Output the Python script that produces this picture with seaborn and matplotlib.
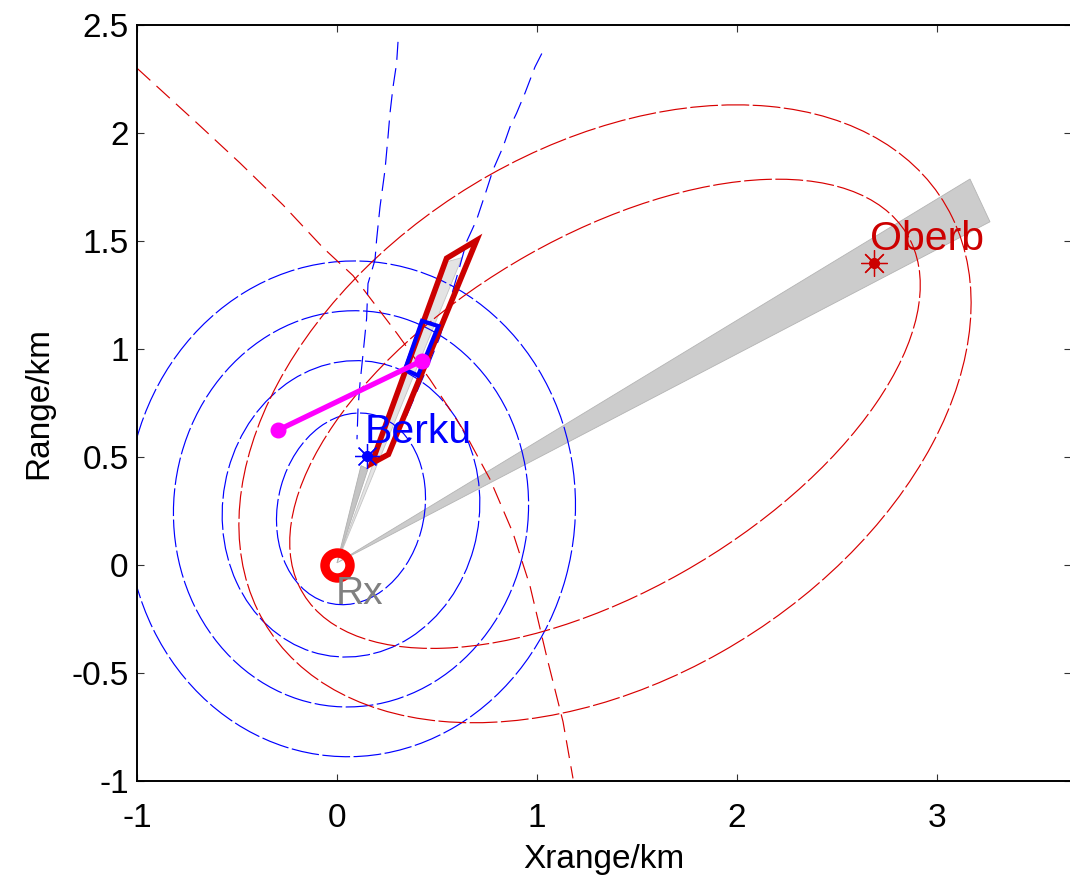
import numpy as np
import pandas as pd
import matplotlib
matplotlib.use("Agg")
import matplotlib.pyplot as plt
import seaborn as sns
from matplotlib.patches import Ellipse, Polygon

# ---------------- data ----------------
# station positions (km)
rx_x, rx_y = 0.0, 0.0
berku_x, berku_y = 0.148, 0.505
oberb_x, oberb_y = 2.685, 1.398

# iso-delay ellipses Rx-Berku (blue)
blue_center = (0.07, 0.26)
blue_angle = 73.5
blue_semi_major = [0.45, 0.69, 0.92, 1.15]
blue_semi_minor = [0.365, 0.64, 0.885, 1.12]

# iso-delay ellipses Rx-Oberb (red)
red_center = (1.34, 0.70)
red_angle = 27.6
red_semi_major = [1.725, 1.96]
red_semi_minor = [0.83, 1.247]

# hyperbola-like dashed curves
red_hyp_x = [-1.0, -0.70, -0.485, -0.27, -0.07, 0.08, 0.30, 0.465, 0.63, 0.765, 0.88, 0.965, 1.05, 1.13, 1.18]
red_hyp_y = [2.30, 2.046, 1.861, 1.667, 1.469, 1.34, 1.072, 0.859, 0.628, 0.397, 0.148, -0.097, -0.43, -0.725, -0.988]

blue_hyp1_x = [0.305, 0.298, 0.28, 0.265, 0.255, 0.24, 0.215, 0.198, 0.19, 0.155, 0.148, 0.13, 0.115, 0.105, 0.10]
blue_hyp1_y = [2.422, 2.323, 2.212, 2.092, 1.982, 1.829, 1.658, 1.506, 1.413, 1.303, 1.141, 0.975, 0.841, 0.725, 0.582]

blue_hyp2_x = [1.024, 0.99, 0.94, 0.898, 0.865, 0.83, 0.78, 0.748, 0.698, 0.648, 0.615, 0.565, 0.515, 0.465, 0.415, 0.34]
blue_hyp2_y = [2.368, 2.306, 2.185, 2.092, 2.028, 1.935, 1.829, 1.737, 1.598, 1.497, 1.386, 1.224, 1.058, 0.942, 0.836, 0.674]

# antenna beams (grey wedges)
oberb_beam_x = [0.0, 3.165, 3.265]
oberb_beam_y = [0.01, 1.787, 1.589]
berku_beam_dark_x = [0.0, 0.12, 0.155]
berku_beam_dark_y = [0.01, 0.46, 0.445]
berku_beam_light_x = [0.0, 0.55, 0.625]
berku_beam_light_y = [0.01, 1.404, 1.423]

# scattering volumes
red_region_x = [0.173, 0.548, 0.698, 0.257]
red_region_y = [0.47, 1.42, 1.503, 0.512]
blue_region_x = [0.425, 0.507, 0.405, 0.34]
blue_region_y = [1.13, 1.106, 0.877, 0.905]

# magenta track
track_x = [-0.293, 0.423]
track_y = [0.625, 0.945]

x_ticks = [-1, 0, 1, 2, 3]
x_tick_labels = ["-1", "0", "1", "2", "3"]
y_ticks = [-1, -0.5, 0, 0.5, 1, 1.5, 2, 2.5]
y_tick_labels = ["-1", "-0.5", "0", "0.5", "1", "1.5", "2", "2.5"]

# ---------------- style ----------------
sns.set_theme(style="ticks")
plt.rcParams["font.family"] = ["Liberation Sans", "DejaVu Sans"]
plt.rcParams["axes.unicode_minus"] = False
plt.rcParams["lines.scale_dashes"] = False

W, H = 1070, 881
fig = plt.figure(figsize=(W / 100, H / 100), dpi=100)
ax = fig.add_axes([137 / W, 100 / H, (1071 - 137) / W, 756 / H])
ax.set_facecolor("white")

RED_THIN = "#d80000"
DARK_RED = "#cc0000"
BLUE = "#0000ff"

# beams
ax.add_patch(Polygon(np.column_stack([oberb_beam_x, oberb_beam_y]), closed=True,
                     facecolor="#cccccc", edgecolor="#b4b4b4", lw=0.6, zorder=1))
ax.add_patch(Polygon(np.column_stack([berku_beam_light_x, berku_beam_light_y]), closed=True,
                     facecolor="#e4e4e4", edgecolor="#c4c4c4", lw=0.6, zorder=1))
ax.add_patch(Polygon(np.column_stack([berku_beam_dark_x, berku_beam_dark_y]), closed=True,
                     facecolor="#c4c4c4", edgecolor="#b0b0b0", lw=0.6, zorder=1.1))

ell_dash = (0, (20, 2.5))
hyp_dash = (0, (13, 6))

for a, b in zip(blue_semi_major, blue_semi_minor):
    ax.add_patch(Ellipse(blue_center, 2 * a, 2 * b, angle=blue_angle, fill=False,
                         edgecolor=BLUE, lw=0.85, linestyle=ell_dash, zorder=2))
for a, b in zip(red_semi_major, red_semi_minor):
    ax.add_patch(Ellipse(red_center, 2 * a, 2 * b, angle=red_angle, fill=False,
                         edgecolor=RED_THIN, lw=0.85, linestyle=ell_dash, zorder=2))

hyp = pd.DataFrame({
    "x": red_hyp_x + blue_hyp1_x + blue_hyp2_x,
    "y": red_hyp_y + blue_hyp1_y + blue_hyp2_y,
    "curve": ["red"] * len(red_hyp_x) + ["blue1"] * len(blue_hyp1_x) + ["blue2"] * len(blue_hyp2_x),
})
for name, col in [("red", RED_THIN), ("blue1", BLUE), ("blue2", BLUE)]:
    d = hyp[hyp.curve == name]
    sns.lineplot(data=d, x="x", y="y", sort=False, estimator=None, ax=ax,
                 color=col, lw=0.85, linestyle=hyp_dash, zorder=2, legend=False)

# scattering volumes
ax.add_patch(Polygon(np.column_stack([red_region_x, red_region_y]), closed=True, fill=False,
                     edgecolor=DARK_RED, lw=4.0, joinstyle="miter", zorder=3))
ax.add_patch(Polygon(np.column_stack([blue_region_x, blue_region_y]), closed=True, fill=False,
                     edgecolor=BLUE, lw=3.0, joinstyle="miter", zorder=3.5))

# magenta track
trk = pd.DataFrame({"x": track_x, "y": track_y})
sns.lineplot(data=trk, x="x", y="y", sort=False, estimator=None, ax=ax,
             color="#ff00ff", lw=3.8, zorder=4, legend=False)
ax.plot(track_x, track_y, "o", ms=10.5, color="#ff00ff", mec="#ff00ff", zorder=4.1)

# stations
ax.plot(rx_x, rx_y, "o", ms=18, mew=6.8, mfc="none", mec="#ff0000", zorder=5)
ax.plot(berku_x, berku_y, marker=(8, 2, 0), ms=18, mew=0.9, color=BLUE, ls="none", zorder=5)
ax.plot(berku_x, berku_y, "o", ms=7, color=BLUE, mec=BLUE, zorder=5)
ax.plot(oberb_x, oberb_y, marker=(8, 2, 0), ms=19, mew=0.9, color=DARK_RED, ls="none", zorder=5)
ax.plot(oberb_x, oberb_y, "o", ms=7, color=DARK_RED, mec=DARK_RED, zorder=5)

ax.text(0.138, 0.564, "Berku", color=BLUE, fontsize=29.5, ha="left", va="baseline", zorder=6)
ax.text(2.665, 1.46, "Oberb", color=DARK_RED, fontsize=29.5, ha="left", va="baseline", zorder=6)
ax.text(-0.005, -0.18, "Rx", color="#808080", fontsize=28, ha="left", va="baseline", zorder=6)

# axes
ax.set_xlim(-1, (1071 - 337) / 200)
ax.set_ylim(-1, 2.5)
ax.set_xticks(x_ticks)
ax.set_xticklabels(x_tick_labels)
ax.set_yticks(y_ticks)
ax.set_yticklabels(y_tick_labels)
ax.tick_params(axis="both", direction="in", length=5, width=0.8, color="#333333",
               labelsize=24, labelcolor="black", top=True, right=True)
ax.tick_params(axis="x", pad=16)
ax.tick_params(axis="y", pad=6)
for s in ax.spines.values():
    s.set_linewidth(1.4)
    s.set_color("black")
ax.set_xlabel("Xrange/km", fontsize=24, labelpad=7, color="black")
ax.set_ylabel("Range/km", fontsize=24, labelpad=12, color="black")
ax.grid(False)

fig.savefig("out.png", dpi=100)
